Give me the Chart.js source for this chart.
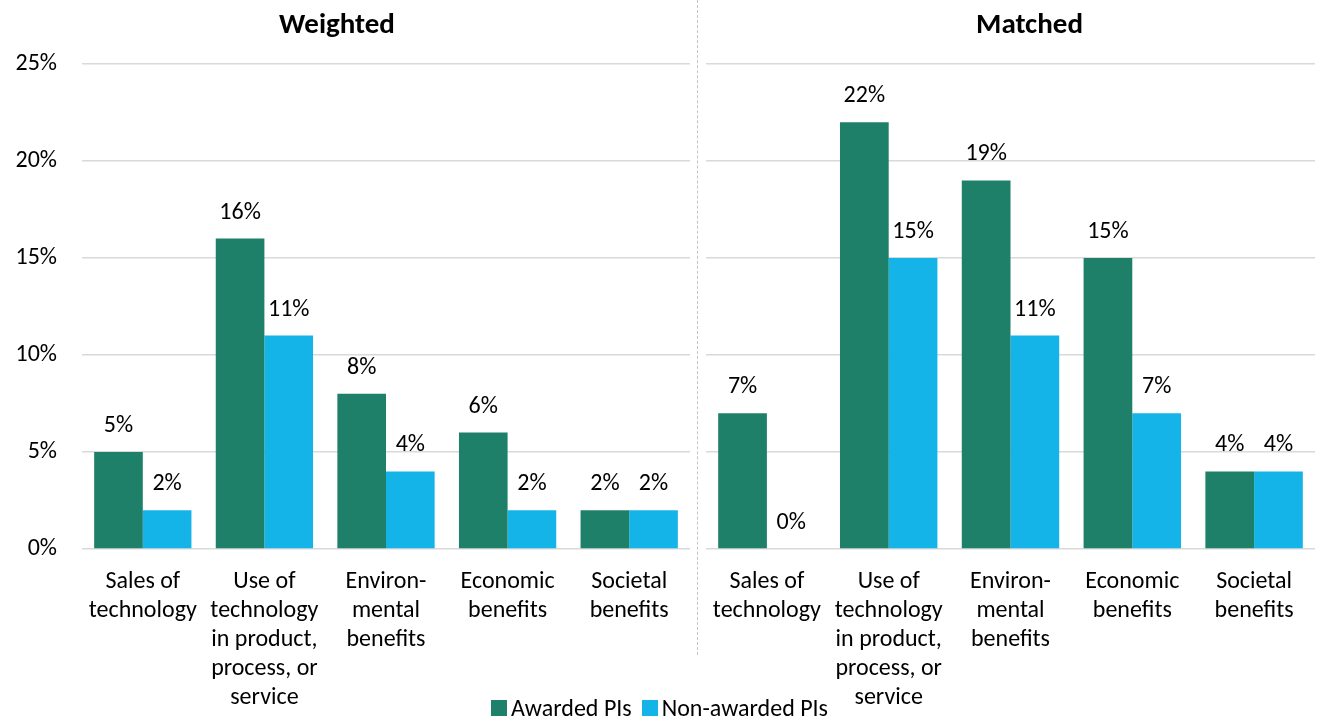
<!DOCTYPE html>
<html>
<head>
<meta charset="utf-8">
<script src="https://cdn.jsdelivr.net/npm/chart.js@4.4.1/dist/chart.umd.min.js"></script>
<style>
  html, body { margin: 0; padding: 0; background: #fff; }
  body { width: 1319px; height: 719px; position: relative; overflow: hidden;
         font-family: Carlito, Calibri, Lato, sans-serif; }
  #wrapW { position: absolute; left: 0; top: 0; width: 698px; height: 719px; }
  #wrapM { position: absolute; left: 698px; top: 0; width: 621px; height: 719px; }
  #divider { position: absolute; left: 697px; top: 0; height: 655px; border-left: 1.5px dashed #c4c4c4; }
  #legend { position: absolute; left: 0; width: 1319px; top: 693px; display: flex;
            justify-content: center; align-items: center; font-size: 24px; color: #000; }
  #legend .item { display: flex; align-items: center; margin: 0 5px; }
  #legend .sw { width: 16px; height: 16px; margin-right: 4px; }
</style>
</head>
<body>
<div id="wrapW"><canvas id="weighted"></canvas></div>
<div id="wrapM"><canvas id="matched"></canvas></div>
<div id="divider"></div>
<div id="legend"></div>
<script>
// Outcome categories (shared by both panels)
const categories = [
  ['Sales of', 'technology'],
  ['Use of', 'technology', 'in product,', 'process, or', 'service'],
  ['Environ-', 'mental', 'benefits'],
  ['Economic', 'benefits'],
  ['Societal', 'benefits']
];
const seriesNames = ['Awarded PIs', 'Non-awarded PIs'];
const panelTitles = ['Weighted', 'Matched'];

// Percent of PIs reporting each outcome
const weightedAwarded    = [5, 16, 8, 6, 2];
const weightedNonAwarded = [2, 11, 4, 2, 2];
const matchedAwarded     = [7, 22, 19, 15, 4];
const matchedNonAwarded  = [0, 15, 11, 7, 4];

const yTicks = [0, 5, 10, 15, 20, 25];

const GREEN = '#1f806a';
const BLUE = '#14b4e9';
const GRID = '#d9d9d9';
const FONT = 'Carlito, Calibri, Lato, sans-serif';

// Value labels above each bar
const valueLabels = {
  id: 'valueLabels',
  afterDatasetsDraw(chart) {
    const ctx = chart.ctx;
    ctx.save();
    ctx.font = '24px ' + FONT;
    ctx.fillStyle = '#000';
    ctx.textAlign = 'center';
    ctx.textBaseline = 'middle';
    chart.data.datasets.forEach((ds, i) => {
      chart.getDatasetMeta(i).data.forEach((bar, j) => {
        ctx.fillText(ds.data[j] + '%', bar.x, bar.y - 26);
      });
    });
    ctx.restore();
  }
};

// Panel heading
const panelTitle = {
  id: 'panelTitle',
  afterDraw(chart, args, opts) {
    const ctx = chart.ctx;
    const a = chart.chartArea;
    ctx.save();
    ctx.font = 'bold 29px ' + FONT;
    ctx.fillStyle = '#000';
    ctx.textAlign = 'center';
    ctx.textBaseline = 'middle';
    ctx.fillText(opts.text, (a.left + a.right) / 2 + opts.shift, 26);
    ctx.restore();
  }
};

function makePanel(canvasId, title, shift, awarded, nonAwarded, showY, pad) {
  return new Chart(document.getElementById(canvasId), {
    type: 'bar',
    data: {
      labels: categories,
      datasets: [
        { label: seriesNames[0], data: awarded, backgroundColor: GREEN },
        { label: seriesNames[1], data: nonAwarded, backgroundColor: BLUE }
      ]
    },
    options: {
      responsive: true,
      maintainAspectRatio: false,
      animation: false,
      events: [],
      layout: { padding: { top: 64, left: pad.left, right: pad.right, bottom: 0 } },
      datasets: { bar: { categoryPercentage: 0.8, barPercentage: 1.0 } },
      plugins: {
        legend: { display: false },
        tooltip: { enabled: false },
        panelTitle: { text: title, shift: shift }
      },
      scales: {
        x: {
          grid: { display: false },
          border: { display: false },
          ticks: {
            color: '#000',
            font: { family: FONT, size: 24, lineHeight: 1.21 },
            padding: 10,
            maxRotation: 0,
            autoSkip: false
          },
          afterFit(scale) { scale.height = 170; }
        },
        y: {
          min: 0,
          max: 25,
          afterBuildTicks(scale) { scale.ticks = yTicks.map(v => ({ value: v })); },
          grid: { color: GRID, lineWidth: 1.5, drawTicks: false },
          border: { display: false },
          ticks: {
            display: showY,
            color: '#000',
            font: { family: FONT, size: 24 },
            padding: 25,
            callback: v => v + '%'
          },
          afterFit(scale) { scale.width = showY ? 82 : 0; }
        }
      }
    },
    plugins: [valueLabels, panelTitle]
  });
}

makePanel('weighted', panelTitles[0], -49, weightedAwarded, weightedNonAwarded, true, { left: 0, right: 8 });
makePanel('matched', panelTitles[1], 19, matchedAwarded, matchedNonAwarded, false, { left: 8, right: 4 });

// Shared legend
const legend = document.getElementById('legend');
[GREEN, BLUE].forEach((c, i) => {
  const item = document.createElement('div');
  item.className = 'item';
  const sw = document.createElement('span');
  sw.className = 'sw';
  sw.style.background = c;
  const txt = document.createElement('span');
  txt.textContent = seriesNames[i];
  item.appendChild(sw);
  item.appendChild(txt);
  legend.appendChild(item);
});
</script>
</body>
</html>
